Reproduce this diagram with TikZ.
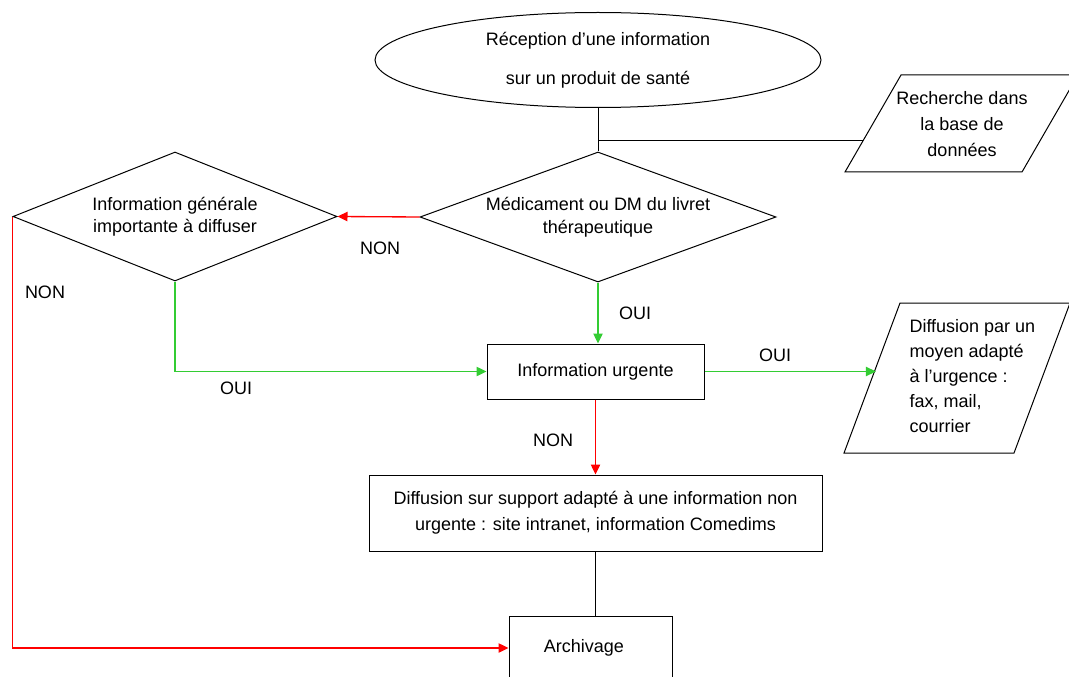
\documentclass[tikz,border=0pt]{standalone}
\usepackage{fontspec}
\setmainfont{Liberation Sans}
\usetikzlibrary{shapes.geometric,arrows.meta,calc}
\definecolor{ouigreen}{RGB}{51,204,51}
\definecolor{nonred}{RGB}{255,0,0}
\begin{document}
\begin{tikzpicture}[x=0.75pt,y=-0.75pt,line width=0.75pt]
\tikzstyle{every node}+=[inner sep=0pt,font=\fontsize{13.5}{17}\selectfont]
\tikzstyle{box}=[draw=black,rectangle,align=center]
\tikzstyle{choix}=[draw=black,diamond,align=center]
\tikzstyle{oui}=[ouigreen,line width=1pt,-{Triangle[length=7.5pt,width=7pt]}]
\tikzstyle{non}=[nonred,line width=1pt,-{Triangle[length=7.5pt,width=7pt]}]
\useasboundingbox (0,0) rectangle (1069,677);
\node[draw=black,ellipse,minimum width=334.5pt,minimum height=71.25pt,align=center,font=\fontsize{13.5}{29}\selectfont] (recep) at (598,60) {Réception d’une information\\sur un produit de santé};
\node[align=center,font=\fontsize{13.5}{19.5}\selectfont] (base) at (962,124) {Recherche dans\\la base de\\données};
\node[choix,shape aspect=2.7,minimum width=267pt,minimum height=97.5pt] (medic) at (598,217) {Médicament ou DM du livret\\thérapeutique};
\node[choix,shape aspect=2.5,minimum width=243pt,minimum height=96.75pt,font=\fontsize{13.5}{16.5}\selectfont] (gener) at (175,216.5) {Information générale\\importante à diffuser};
\node[box,minimum width=162.75pt,minimum height=41.25pt] (urgent) at (595.5,371.5) {Information urgente};
\node[anchor=west,align=left,font=\fontsize{13.5}{18.75}\selectfont] (moyen) at (909,376) {Diffusion par un\\moyen adapté\\à l’urgence :\\fax, mail,\\courrier};
\node[box,minimum width=339.75pt,minimum height=57pt,font=\fontsize{13.5}{19.5}\selectfont] (support) at (595.5,513) {Diffusion sur support adapté à une information non\\urgente : site intranet, information Comedims};
\node[box,minimum width=122.25pt,minimum height=48pt] (archiv) at (590.5,648) {\hspace*{-10pt}Archivage};
% parallelograms
\coordinate (bSW) at (845,172);
\coordinate (bNW) at (901,75);
\draw (bSW) -- (1022,172) -- (1078,75) -- (bNW) -- cycle;
\coordinate (mSW) at (844,453);
\coordinate (mNW) at (900,303);
\draw (mSW) -- (1014,453) -- (1070,303) -- (mNW) -- cycle;
% labels
\node (nonA) at (380,248) {NON};
\node (nonB) at (45,292) {NON};
\node (ouiA) at (635,313) {OUI};
\node (ouiB) at (236,388) {OUI};
\node (ouiC) at (775,355) {OUI};
\node (nonC) at (553,440) {NON};
% connectors
\coordinate (bjoin) at ($(bSW)!0.32!(bNW)$);
\coordinate (mjoin) at ($(mSW)!0.57!(mNW)$);
\draw (recep.south) -- (recep.south |- medic.north);
\draw (recep.south |- bjoin) -- (bjoin);
\draw[non] (medic.west) -- (gener.east);
\draw[oui] (medic.south) -- (medic.south |- urgent.north);
\draw[oui] (gener.south) |- (urgent.west);
\draw[oui] (urgent.east) -- (urgent.east -| mjoin);
\draw[non] (urgent.south) -- (support.north);
\draw (support.south) -- (support.south |- archiv.north);
\draw[non] (gener.west) |- (archiv.west);
\end{tikzpicture}
\end{document}
